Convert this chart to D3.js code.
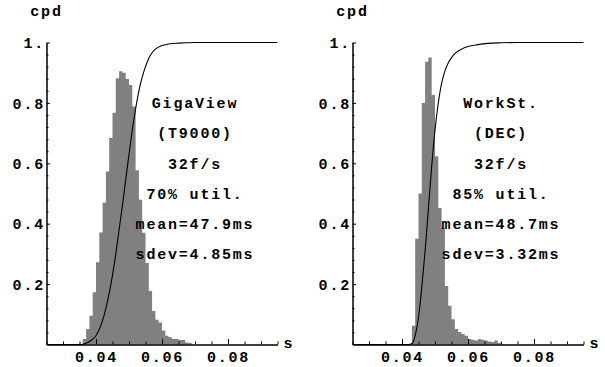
<!DOCTYPE html>
<html>
<head>
<meta charset="utf-8">
<script src="https://cdn.jsdelivr.net/npm/d3@7"></script>
<style>
  body { margin: 0; background: #fff; }
  svg text {
    font-family: "Liberation Mono", "Courier New", monospace;
    font-weight: bold;
    font-size: 15px;
    letter-spacing: 1.8px;
    fill: #000;
  }
</style>
</head>
<body>
<svg id="chart" width="605" height="367"></svg>
<script>
// GigaView panel: 1 ms histogram bins (bin start, s) and bar heights
var gigaBins = [0.036, 0.037, 0.038, 0.039, 0.040, 0.041, 0.042, 0.043, 0.044, 0.045,
                0.046, 0.047, 0.048, 0.049, 0.050, 0.051, 0.052, 0.053, 0.054, 0.055,
                0.056, 0.057, 0.058, 0.059, 0.060, 0.061, 0.062, 0.063, 0.064, 0.065,
                0.066, 0.067, 0.068];
var gigaHeights = [0.018, 0.051, 0.095, 0.173, 0.272, 0.371, 0.470, 0.573, 0.684, 0.767,
                   0.882, 0.905, 0.900, 0.879, 0.859, 0.788, 0.577, 0.479, 0.370, 0.270,
                   0.177, 0.111, 0.082, 0.073, 0.046, 0.029, 0.024, 0.018, 0.018, 0.015,
                   0.015, 0.007, 0.005];
// cumulative curve
var gigaCdfX = [0.025, 0.035, 0.036, 0.037, 0.038, 0.039, 0.040, 0.041, 0.042, 0.043,
                0.044, 0.045, 0.046, 0.047, 0.048, 0.049, 0.050, 0.051, 0.052, 0.053,
                0.054, 0.055, 0.056, 0.057, 0.058, 0.060, 0.062, 0.065, 0.070, 0.095];
var gigaCdfY = [0, 0, 0.001, 0.004, 0.010, 0.018, 0.030, 0.050, 0.080, 0.120,
                0.170, 0.230, 0.300, 0.380, 0.460, 0.545, 0.630, 0.710, 0.780, 0.840,
                0.885, 0.920, 0.948, 0.966, 0.978, 0.990, 0.995, 0.998, 1, 1];
var gigaNotes = ["GigaView", "(T9000)", "32f/s", "70% util.", "mean=47.9ms", "sdev=4.85ms"];

// WorkSt. panel
var workBins = [0.043, 0.044, 0.045, 0.046, 0.047, 0.048, 0.049, 0.050, 0.051, 0.052,
                0.053, 0.054, 0.055, 0.056, 0.057, 0.058, 0.059, 0.060, 0.061, 0.062,
                0.063, 0.064, 0.065, 0.066, 0.067, 0.068, 0.069];
var workHeights = [0.062, 0.350, 0.500, 0.800, 0.936, 0.950, 0.826, 0.623, 0.452, 0.387,
                   0.194, 0.128, 0.084, 0.051, 0.041, 0.035, 0.029, 0.018, 0.016, 0.013,
                   0.018, 0.016, 0.013, 0.010, 0.008, 0.013, 0.005];
var workCdfX = [0.025, 0.042, 0.043, 0.044, 0.045, 0.046, 0.047, 0.048, 0.049, 0.050,
                0.051, 0.052, 0.053, 0.054, 0.055, 0.056, 0.058, 0.060, 0.063, 0.066,
                0.070, 0.075, 0.095];
var workCdfY = [0, 0, 0.003, 0.030, 0.090, 0.190, 0.310, 0.450, 0.590, 0.710,
                0.800, 0.865, 0.905, 0.932, 0.950, 0.963, 0.978, 0.987, 0.993, 0.997,
                0.999, 1, 1];
var workNotes = ["WorkSt.", "(DEC)", "32f/s", "85% util.", "mean=48.7ms", "sdev=3.32ms"];

// axes
var xDomain = [0.025, 0.095];
var xMajor = [0.04, 0.06, 0.08];
var xMajorLabels = ["0.04", "0.06", "0.08"];
var xMinor = [0.025, 0.03, 0.035, 0.045, 0.05, 0.055, 0.065, 0.07, 0.075, 0.085, 0.09, 0.095];
var yMajor = [0.2, 0.4, 0.6, 0.8, 1];
var yMajorLabels = ["0.2", "0.4", "0.6", "0.8", "1."];
var yMinor = [0.04, 0.08, 0.12, 0.16, 0.24, 0.28, 0.32, 0.36, 0.44, 0.48, 0.52, 0.56,
              0.64, 0.68, 0.72, 0.76, 0.84, 0.88, 0.92, 0.96];
var noteX = 0.07;
var noteY = [0.8, 0.7, 0.6, 0.5, 0.4, 0.3];
var binWidth = 0.001;

var svg = d3.select("#chart");

function drawPanel(left, bins, heights, cdfX, cdfY, notes) {
  var x = d3.scaleLinear().domain(xDomain).range([left, left + 231]);
  var y = d3.scaleLinear().domain([0, 1]).range([344.5, 42.5]);
  var g = svg.append("g");

  // histogram as one stepped area
  var steps = bins.map(function(b, i) { return { x: b, h: heights[i] }; });
  steps.push({ x: bins[bins.length - 1] + binWidth, h: 0 });
  g.append("path")
    .datum(steps)
    .attr("fill", "#808080")
    .attr("d", d3.area()
      .curve(d3.curveStepAfter)
      .x(function(d) { return x(d.x); })
      .y0(y(0))
      .y1(function(d) { return y(d.h); }));

  // cumulative curve
  var pts = cdfX.map(function(v, i) { return [v, cdfY[i]]; });
  g.append("path")
    .datum(pts)
    .attr("fill", "none")
    .attr("stroke", "#000")
    .attr("stroke-width", 1.1)
    .attr("d", d3.line()
      .curve(d3.curveMonotoneX)
      .x(function(d) { return x(d[0]); })
      .y(function(d) { return y(d[1]); }));

  // x axis, ticks pointing inward
  g.append("g")
    .attr("transform", "translate(0," + y(0) + ")")
    .call(d3.axisBottom(x).tickValues(xMinor).tickSize(-3).tickSizeOuter(0).tickFormat(""));
  g.append("g")
    .attr("transform", "translate(0," + y(0) + ")")
    .call(d3.axisBottom(x).tickValues(xMajor).tickSize(-5.5).tickSizeOuter(0).tickPadding(7)
      .tickFormat(function(d, i) { return xMajorLabels[i]; }));

  // y axis
  g.append("g")
    .attr("transform", "translate(" + x(xDomain[0]) + ",0)")
    .call(d3.axisLeft(y).tickValues(yMinor).tickSize(-2).tickSizeOuter(0).tickFormat(""));
  g.append("g")
    .attr("transform", "translate(" + x(xDomain[0]) + ",0)")
    .call(d3.axisLeft(y).tickValues(yMajor).tickSize(-3.5).tickSizeOuter(0).tickPadding(1.5)
      .tickFormat(function(d, i) { return yMajorLabels[i]; }));

  g.selectAll(".tick text").attr("dy", function() {
    return d3.select(this.parentNode.parentNode).attr("transform").indexOf("translate(0,") === 0 ? "0.71em" : "0.35em";
  });

  g.append("text")
    .attr("x", x(xDomain[0]))
    .attr("y", 16)
    .attr("text-anchor", "middle")
    .text("cpd");
  g.append("text")
    .attr("x", x(xDomain[1]) + 6)
    .attr("y", y(0) + 3.5)
    .text("s");

  g.selectAll(".note")
    .data(notes)
    .enter().append("text")
    .attr("class", "note")
    .attr("x", x(noteX))
    .attr("y", function(d, i) { return y(noteY[i]); })
    .attr("dy", "0.35em")
    .attr("text-anchor", "middle")
    .text(function(d) { return d; });
}

drawPanel(46.5, gigaBins, gigaHeights, gigaCdfX, gigaCdfY, gigaNotes);
drawPanel(352.5, workBins, workHeights, workCdfX, workCdfY, workNotes);
</script>
</body>
</html>
